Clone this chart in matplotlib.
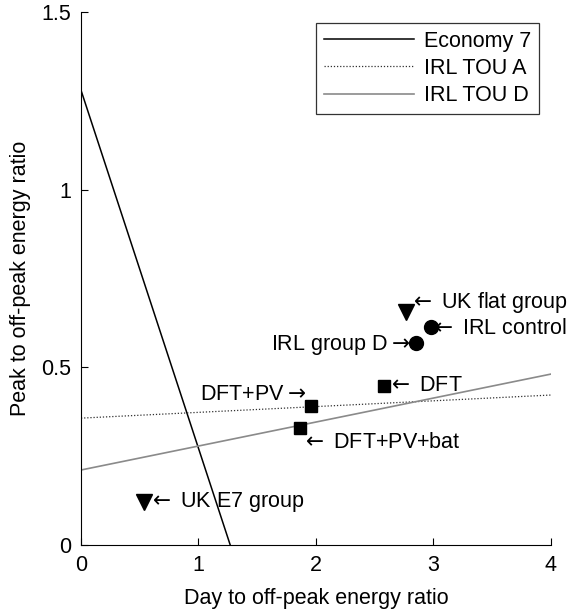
import matplotlib
matplotlib.use("Agg")
import matplotlib.pyplot as plt

plt.rcParams['font.family'] = ['Liberation Sans', 'DejaVu Sans']
plt.rcParams['font.size'] = 15.5

# tariff lines (day ratio, peak ratio)
e7_x = [0, 1.27]
e7_y = [1.28, 0]
toua_x = [0, 4]
toua_y = [0.357, 0.422]
toud_x = [0, 4]
toud_y = [0.211, 0.481]

# groups
names = ['UK flat group', 'IRL control', 'IRL group D', 'DFT', 'DFT+PV', 'DFT+PV+bat', 'UK E7 group']
day_ratio = [2.77, 2.98, 2.85, 2.58, 1.96, 1.86, 0.54]
peak_ratio = [0.656, 0.614, 0.568, 0.448, 0.391, 0.328, 0.122]
markers = ['v', 'o', 'o', 's', 's', 's', 'v']

# label placement: (text, dx pt, dy pt, ha)
labels = [
    (r'$\leftarrow$ UK flat group', 1.5, 7, 'left'),
    (r'$\leftarrow$ IRL control', -0.5, -1, 'left'),
    (r'IRL group D$\rightarrow$', -4.0, -1, 'right'),
    (r'$\leftarrow$ DFT', 2.0, 0, 'left'),
    (r'DFT+PV$\rightarrow$', -4.0, 8, 'right'),
    (r'$\leftarrow$ DFT+PV+bat', 1.0, -10, 'left'),
    (r'$\leftarrow$ UK E7 group', 2.5, 0, 'left'),
]
msizes = {'v': 11, 'o': 10, 's': 9}

fig = plt.figure(figsize=(5.68, 6.16), dpi=100)
ax = fig.add_axes([0.1426, 0.1153, 0.8274, 0.8652])

ax.plot(e7_x, e7_y, color='black', lw=1.1, label='Economy 7')
ax.plot(toua_x, toua_y, color='#303030', lw=0.9, ls=(0, (1, 1.5)), label='IRL TOU A')
ax.plot(toud_x, toud_y, color='#8a8a8a', lw=1.2, label='IRL TOU D')

for x, y, m in zip(day_ratio, peak_ratio, markers):
    ax.plot(x, y, marker=m, color='black', ms=msizes[m], ls='none')

for (txt, dx, dy, ha), x, y in zip(labels, day_ratio, peak_ratio):
    ax.annotate(txt, (x, y), xytext=(dx, dy), textcoords='offset points',
                ha=ha, va='center')

ax.set_xlim(0, 4)
ax.set_ylim(0, 1.5)
ax.set_xticks([0, 1, 2, 3, 4])
ax.set_yticks([0, 0.5, 1, 1.5])
ax.set_yticklabels(['0', '0.5', '1', '1.5'])
ax.spines['top'].set_visible(False)
ax.spines['right'].set_visible(False)
ax.tick_params(direction='in', length=5, pad=7)
ax.set_xlabel('Day to off-peak energy ratio')
ax.set_ylabel('Peak to off-peak energy ratio')
ax.xaxis.set_label_coords(0.5, -0.080)
ax.yaxis.set_label_coords(-0.106, 0.5)

leg = ax.legend(loc='upper right', bbox_to_anchor=(0.9745, 0.9794), fancybox=False,
                edgecolor='black', handlelength=4.2, handletextpad=0.47,
                borderpad=0.35, labelspacing=0.3, borderaxespad=0)
leg.get_frame().set_linewidth(0.9)

fig.savefig('out.png', dpi=100)
